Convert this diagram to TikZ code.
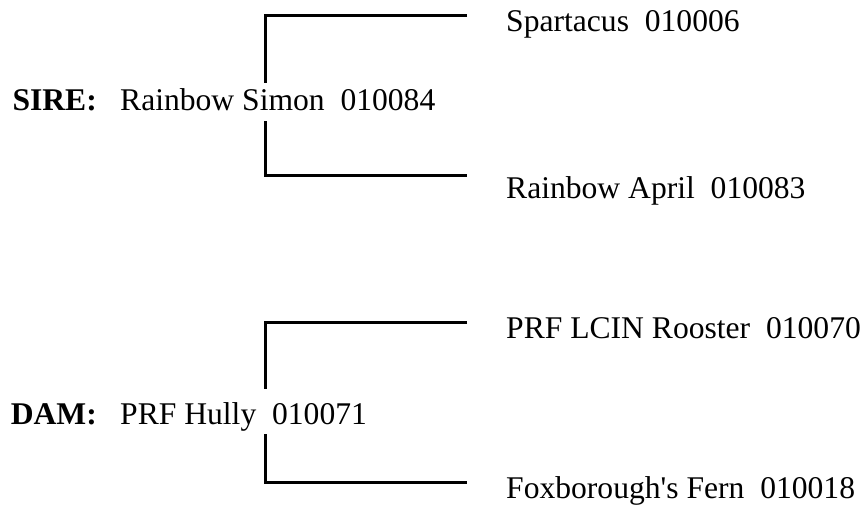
\documentclass[tikz,border=0pt]{standalone}
\usepackage{fontspec}
\setmainfont{Liberation Serif}
\begin{document}
\begin{tikzpicture}[x=1pt,y=-1pt,
  lbl/.style={inner sep=0pt,anchor=base west,font=\fontsize{31.6}{36}\selectfont},
  role/.style={inner sep=0pt,anchor=base east,font=\fontsize{31.6}{36}\selectfont\bfseries},
  bracket/.style={line width=3pt,line join=miter,black}]
\useasboundingbox (0,0) rectangle (865,506);
% SIRE block
\node[role] (sire) at (97,110) {SIRE:};
\node[lbl] (sirename) at (120,110) {Rainbow Simon~~010084};
\node[lbl] (ss) at (506,31) {Spartacus~~010006};
\node[lbl] (sd) at (506,198) {Rainbow April~~010083};
\coordinate (sTopEnd) at (467,15.5);
\coordinate (sGapTop) at (265.5,83);
\coordinate (sGapBot) at (265.5,121);
\coordinate (sBotEnd) at (467,175);
\draw[bracket] (sTopEnd) -| (sGapTop);
\draw[bracket] (sGapBot) |- (sBotEnd);
% DAM block
\node[role] (dam) at (97,424) {DAM:};
\node[lbl] (damname) at (120,424) {PRF Hully~~010071};
\node[lbl] (ds) at (506,338) {PRF LCIN Rooster~~010070};
\node[lbl] (dd) at (506,498) {Foxborough\textquotesingle s Fern~~010018};
\coordinate (dTopEnd) at (467,322.5);
\coordinate (dGapTop) at (265.5,389);
\coordinate (dGapBot) at (265.5,434);
\coordinate (dBotEnd) at (467,482);
\draw[bracket] (dTopEnd) -| (dGapTop);
\draw[bracket] (dGapBot) |- (dBotEnd);
\end{tikzpicture}
\end{document}
